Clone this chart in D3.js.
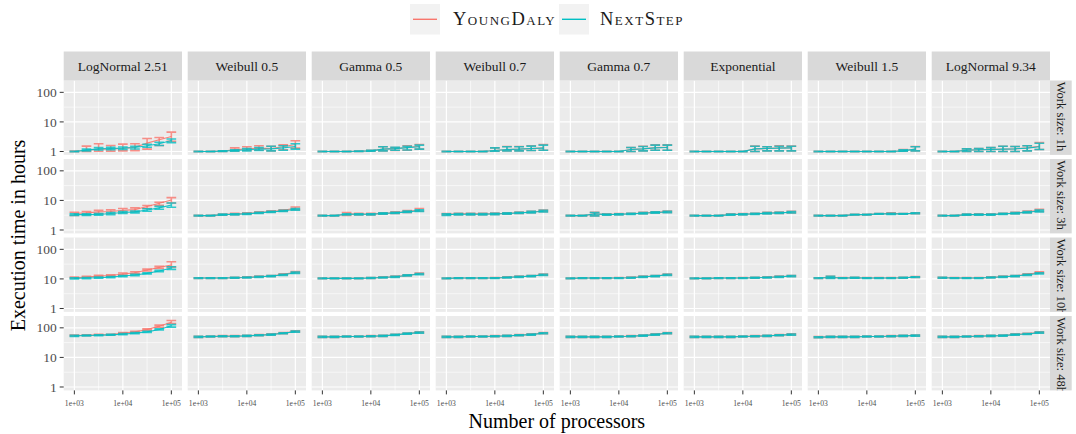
<!DOCTYPE html>
<html>
<head>
<meta charset="utf-8">
<script src="https://cdn.jsdelivr.net/npm/d3@7"></script>
<style>
  body { margin: 0; background: #fff; }
  svg { display: block; }
  text { font-family: "Liberation Serif", "Times New Roman", serif; }
</style>
</head>
<body>
<svg id="chart" width="1076" height="434"></svg>
<script>
// ---- Facets, axes and series ----
const distributions = ["LogNormal 2.51", "Weibull 0.5", "Gamma 0.5", "Weibull 0.7",
                       "Gamma 0.7", "Exponential", "Weibull 1.5", "LogNormal 9.34"];
const workSizes = ["1h", "3h", "10h", "48h"];
const workSizeLabels = ["Work size: 1h", "Work size: 3h", "Work size: 10h", "Work size: 48h"];
const processorCounts = [1000, 1778, 3162, 5623, 10000, 17783, 31623, 56234, 100000];
const heuristics = ["YoungDaly", "NextStep"];
const heuristicColors = ["#F8766D", "#00BFC4"];
const xTicks = [1e3, 1e4, 1e5];
const xTickLabels = ["1e+03", "1e+04", "1e+05"];
const xMinorTicks = [3162.28, 31622.8];
const yTicks = [1, 10, 100];
const yTickLabels = ["1", "10", "100"];
const yMinorTicks = [3.1623, 31.623];

// Execution time in hours: one row per distribution, one column per processor count.
// ---- Work size 1h ----
const nextStep1hMean = [
  [1.00,1.11,1.23,1.26,1.30,1.37,1.56,1.82,2.36],
  [1.00,1.00,1.03,1.08,1.14,1.20,1.23,1.33,1.48],
  [1.00,1.00,1.00,1.02,1.05,1.20,1.25,1.35,1.44],
  [1.00,1.00,1.00,1.00,1.08,1.17,1.20,1.26,1.30],
  [1.00,1.00,1.00,1.00,1.00,1.17,1.23,1.33,1.37],
  [1.00,1.00,1.00,1.00,1.00,1.23,1.26,1.30,1.33],
  [1.00,1.00,1.00,1.00,1.00,1.00,1.00,1.05,1.20],
  [1.00,1.00,1.10,1.14,1.17,1.20,1.23,1.30,1.44]];
const nextStep1hLow = [
  [0.99,1.05,1.12,1.14,1.17,1.22,1.40,1.60,2.00],
  [0.99,0.99,1.00,1.03,1.05,1.08,1.05,1.10,1.20],
  [0.99,0.99,0.99,1.00,1.02,1.05,1.10,1.12,1.20],
  [0.99,0.99,0.99,0.99,1.02,1.05,1.05,1.08,1.10],
  [0.99,0.99,0.99,0.99,0.99,1.00,1.05,1.10,1.10],
  [0.99,0.99,0.99,0.99,0.99,1.00,1.05,1.05,1.05],
  [0.99,0.99,0.99,0.99,0.99,0.99,0.99,1.02,1.05],
  [0.99,0.99,1.00,1.00,1.00,1.00,1.00,1.05,1.17]];
const nextStep1hHigh = [
  [1.02,1.20,1.35,1.38,1.42,1.50,1.75,2.05,2.65],
  [1.01,1.01,1.05,1.15,1.25,1.35,1.50,1.56,1.82],
  [1.01,1.01,1.01,1.04,1.10,1.45,1.40,1.50,1.64],
  [1.01,1.01,1.01,1.01,1.33,1.44,1.44,1.52,1.64],
  [1.01,1.01,1.01,1.01,1.01,1.37,1.48,1.64,1.64],
  [1.01,1.01,1.01,1.01,1.01,1.50,1.44,1.50,1.50],
  [1.01,1.01,1.01,1.01,1.01,1.01,1.01,1.15,1.44],
  [1.01,1.01,1.23,1.26,1.35,1.50,1.48,1.56,1.90]];
const youngDaly1hMean = [
  [1.00,1.10,1.20,1.22,1.27,1.40,1.92,2.49,3.20],
  [1.00,1.00,1.03,1.14,1.23,1.30,1.27,1.44,1.73],
  [1.00,1.00,1.00,1.02,1.05,1.20,1.25,1.37,1.50],
  [1.00,1.00,1.00,1.00,1.08,1.17,1.20,1.26,1.33],
  [1.00,1.00,1.00,1.00,1.00,1.17,1.23,1.35,1.40],
  [1.00,1.00,1.00,1.00,1.00,1.23,1.26,1.33,1.33],
  [1.00,1.00,1.00,1.00,1.00,1.00,1.00,1.06,1.21],
  [1.00,1.00,1.10,1.14,1.17,1.20,1.23,1.33,1.50]];
const youngDaly1hLow = [
  [0.98,1.00,1.02,1.03,1.05,1.07,1.20,1.60,2.20],
  [0.99,0.99,1.00,1.05,1.08,1.10,1.05,1.15,1.30],
  [0.99,0.99,0.99,1.00,1.02,1.05,1.08,1.10,1.20],
  [0.99,0.99,0.99,0.99,1.02,1.05,1.05,1.08,1.10],
  [0.99,0.99,0.99,0.99,0.99,1.00,1.05,1.10,1.10],
  [0.99,0.99,0.99,0.99,0.99,1.00,1.05,1.05,1.05],
  [0.99,0.99,0.99,0.99,0.99,0.99,0.99,1.02,1.05],
  [0.99,0.99,1.00,1.00,1.00,1.00,1.00,1.05,1.17]];
const youngDaly1hHigh = [
  [1.03,1.52,1.82,1.60,1.77,1.82,2.76,2.98,4.50],
  [1.01,1.01,1.06,1.33,1.44,1.56,1.50,1.68,2.30],
  [1.01,1.01,1.01,1.04,1.10,1.45,1.35,1.56,1.73],
  [1.01,1.01,1.01,1.01,1.33,1.48,1.48,1.56,1.73],
  [1.01,1.01,1.01,1.01,1.01,1.37,1.50,1.68,1.68],
  [1.01,1.01,1.01,1.01,1.01,1.52,1.44,1.56,1.52],
  [1.01,1.01,1.01,1.01,1.01,1.01,1.01,1.17,1.48],
  [1.01,1.01,1.23,1.26,1.35,1.50,1.48,1.56,2.00]];

// ---- Work size 3h ----
const nextStep3hMean = [
  [3.30,3.30,3.35,3.60,3.90,4.10,4.76,5.60,7.00],
  [3.05,3.05,3.30,3.40,3.50,3.80,4.10,4.40,5.00],
  [3.05,3.05,3.40,3.40,3.40,3.60,3.80,4.10,4.50],
  [3.30,3.40,3.40,3.40,3.50,3.60,3.80,4.00,4.30],
  [3.05,3.05,3.50,3.30,3.40,3.50,3.70,3.90,4.07],
  [3.05,3.05,3.05,3.30,3.40,3.50,3.70,3.80,3.97],
  [3.05,3.05,3.05,3.30,3.30,3.50,3.50,3.50,3.67],
  [3.05,3.05,3.30,3.30,3.30,3.50,3.70,4.00,4.40]];
const nextStep3hLow = [
  [3.10,3.10,3.15,3.30,3.60,3.80,4.30,5.00,5.90],
  [2.98,2.98,3.15,3.25,3.35,3.60,3.90,4.20,4.70],
  [2.98,2.98,3.20,3.25,3.25,3.40,3.60,3.90,4.20],
  [3.10,3.20,3.20,3.20,3.30,3.40,3.60,3.80,4.10],
  [2.98,2.98,3.00,3.15,3.25,3.35,3.50,3.70,3.85],
  [2.98,2.98,2.98,3.15,3.25,3.35,3.50,3.60,3.75],
  [2.98,2.98,2.98,3.20,3.20,3.40,3.35,3.40,3.55],
  [2.98,2.98,3.15,3.15,3.15,3.35,3.50,3.80,4.10]];
const nextStep3hHigh = [
  [3.50,3.50,3.60,3.90,4.20,4.40,5.20,6.30,8.20],
  [3.12,3.12,3.45,3.55,3.70,4.00,4.30,4.65,5.30],
  [3.12,3.12,3.55,3.55,3.55,3.80,4.00,4.35,4.80],
  [3.50,3.60,3.60,3.60,3.70,3.80,4.00,4.25,4.60],
  [3.12,3.12,3.90,3.45,3.55,3.65,3.90,4.10,4.30],
  [3.12,3.12,3.12,3.45,3.55,3.65,3.90,4.00,4.20],
  [3.12,3.12,3.12,3.40,3.40,3.60,3.65,3.60,3.80],
  [3.12,3.12,3.45,3.45,3.45,3.65,3.90,4.20,4.70]];
const youngDaly3hMean = [
  [3.60,3.80,4.10,4.20,4.60,4.90,6.20,8.00,10.40],
  [3.05,3.05,3.30,3.50,3.60,3.90,4.20,4.60,5.40],
  [3.05,3.05,3.50,3.45,3.45,3.65,3.85,4.20,4.70],
  [3.40,3.50,3.50,3.50,3.55,3.65,3.85,4.05,4.40],
  [3.05,3.05,3.50,3.35,3.45,3.55,3.75,3.95,4.10],
  [3.05,3.05,3.05,3.35,3.45,3.55,3.75,3.85,4.00],
  [3.05,3.05,3.05,3.30,3.30,3.50,3.60,3.50,3.70],
  [3.05,3.05,3.30,3.35,3.35,3.55,3.75,4.10,4.60]];
const youngDaly3hLow = [
  [3.10,3.30,3.50,3.60,3.90,4.20,5.30,6.80,8.20],
  [2.98,2.98,3.15,3.30,3.40,3.70,4.00,4.35,4.90],
  [2.98,2.98,3.10,3.25,3.25,3.45,3.65,3.95,4.30],
  [3.20,3.30,3.30,3.30,3.35,3.45,3.65,3.85,4.15],
  [2.98,2.98,3.00,3.20,3.30,3.40,3.55,3.75,3.90],
  [2.98,2.98,2.98,3.20,3.30,3.40,3.55,3.65,3.80],
  [2.98,2.98,2.98,3.20,3.20,3.40,3.40,3.40,3.55],
  [2.98,2.98,3.15,3.20,3.20,3.40,3.55,3.85,4.20]];
const youngDaly3hHigh = [
  [4.00,4.20,4.60,4.80,5.30,5.60,6.70,8.70,12.40],
  [3.12,3.12,3.45,3.70,3.85,4.10,4.45,4.85,6.00],
  [3.12,3.12,3.90,3.65,3.65,3.85,4.10,4.50,5.30],
  [3.60,3.70,3.70,3.70,3.75,3.85,4.05,4.30,4.70],
  [3.12,3.12,3.95,3.50,3.60,3.70,3.95,4.15,4.35],
  [3.12,3.12,3.12,3.50,3.60,3.70,3.95,4.05,4.25],
  [3.12,3.12,3.12,3.40,3.40,3.60,3.80,3.60,3.85],
  [3.12,3.12,3.45,3.50,3.50,3.70,3.95,4.40,5.00]];

// ---- Work size 10h ----
const nextStep10hMean = [
  [10.4,10.7,11.0,11.5,12.5,13.5,15.4,18.5,23.3],
  [10.7,10.7,10.7,10.96,11.2,11.8,12.4,13.8,16.2],
  [10.4,10.4,10.4,10.4,10.7,11.2,11.8,13.1,14.6],
  [10.4,10.7,10.7,10.7,10.7,11.2,11.8,12.4,13.8],
  [10.4,10.7,10.7,10.7,10.7,11.0,11.8,12.4,13.8],
  [10.4,10.4,10.7,10.7,10.7,10.96,11.2,11.8,12.4],
  [10.7,11.2,10.7,10.96,10.7,10.7,10.7,10.96,11.5],
  [10.96,10.7,10.7,10.7,11.2,11.8,12.4,13.8,15.3]];
const nextStep10hLow = [
  [9.9,10.2,10.5,10.9,11.9,12.8,14.6,17.4,21.0],
  [10.4,10.4,10.4,10.6,10.8,11.3,11.9,13.2,15.4],
  [10.1,10.1,10.1,10.1,10.3,10.8,11.3,12.5,13.9],
  [10.1,10.4,10.4,10.4,10.4,10.8,11.3,11.9,13.2],
  [10.1,10.4,10.4,10.4,10.4,10.6,11.3,11.9,13.2],
  [10.1,10.1,10.4,10.4,10.4,10.6,10.8,11.3,11.9],
  [10.4,10.4,10.4,10.6,10.4,10.4,10.4,10.6,11.1],
  [10.5,10.4,10.4,10.4,10.8,11.3,11.9,13.2,14.6]];
const nextStep10hHigh = [
  [10.9,11.2,11.5,12.1,13.1,14.2,16.2,19.6,25.8],
  [11.0,11.0,11.0,11.3,11.6,12.3,12.9,14.4,17.0],
  [10.7,10.7,10.7,10.7,11.1,11.6,12.3,13.7,15.3],
  [10.7,11.0,11.0,11.0,11.0,11.6,12.3,12.9,14.4],
  [10.7,11.0,11.0,11.0,11.0,11.4,12.3,12.9,14.4],
  [10.7,10.7,11.0,11.0,11.0,11.3,11.6,12.3,12.9],
  [11.0,12.2,11.0,11.3,11.0,11.0,11.0,11.3,11.9],
  [11.4,11.0,11.0,11.0,11.6,12.3,12.9,14.4,16.0]];
const youngDaly10hMean = [
  [11.0,11.5,12.5,13.1,14.6,16.2,19.9,24.5,29.4],
  [10.7,10.7,10.7,11.0,11.3,11.9,12.5,14.2,16.8],
  [10.4,10.4,10.4,10.5,10.8,11.3,11.9,13.2,15.0],
  [10.4,10.7,10.7,10.7,10.8,11.3,11.9,12.5,14.0],
  [10.4,10.7,10.7,10.7,10.8,11.1,11.9,12.5,14.0],
  [10.4,10.4,10.7,10.7,10.8,11.0,11.3,11.9,12.5],
  [10.7,11.3,10.8,11.0,10.8,10.8,10.8,11.0,11.6],
  [11.0,10.8,10.8,10.8,11.3,11.9,12.5,14.2,16.5]];
const youngDaly10hLow = [
  [10.5,10.9,11.8,12.4,13.6,15.0,18.5,22.5,25.0],
  [10.4,10.4,10.4,10.6,10.9,11.4,12.0,13.6,16.0],
  [10.1,10.1,10.1,10.2,10.4,10.9,11.4,12.6,14.3],
  [10.1,10.4,10.4,10.4,10.5,10.9,11.4,12.0,13.4],
  [10.1,10.4,10.4,10.4,10.5,10.7,11.4,12.0,13.4],
  [10.1,10.1,10.4,10.4,10.5,10.6,10.9,11.4,12.0],
  [10.4,10.5,10.5,10.6,10.5,10.5,10.5,10.6,11.2],
  [10.6,10.5,10.5,10.5,10.9,11.4,12.0,13.6,15.6]];
const youngDaly10hHigh = [
  [11.6,12.2,13.3,13.9,15.8,17.5,21.5,26.5,38.0],
  [11.0,11.0,11.0,11.4,11.7,12.4,13.0,14.8,17.6],
  [10.7,10.7,10.7,10.8,11.2,11.7,12.4,13.8,15.7],
  [10.7,11.0,11.0,11.0,11.1,11.7,12.4,13.0,14.6],
  [10.7,11.0,11.0,11.0,11.1,11.5,12.4,13.0,14.6],
  [10.7,10.7,11.0,11.0,11.1,11.4,11.7,12.4,13.0],
  [11.0,12.2,11.1,11.4,11.1,11.1,11.1,11.4,12.0],
  [11.4,11.1,11.1,11.1,11.7,12.4,13.0,14.8,17.4]];

// ---- Work size 48h ----
const nextStep48hMean = [
  [53.5,55,56,58,61,66,73,88,117],
  [49.4,50.7,52,52,53.3,56.1,59.1,65.5,74.5],
  [49.4,49.4,50.7,50.7,52,53.3,57.6,63.8,69],
  [49.4,49.4,50.7,50.7,52,53.3,56.1,59.1,65.5],
  [49.4,49.4,49.4,49.4,50.7,52,54.7,59.1,65.5],
  [49.4,49.4,49.4,49.4,50.7,52,53.3,56.1,59.1],
  [48.2,49.4,49.4,49.4,50.7,50.7,52,53.3,54.7],
  [49.4,49.4,50.7,52,53.3,54.7,59.1,62.2,69]];
const nextStep48hLow = [
  [51.5,53,54,56,58.5,63,70,84,106],
  [47.6,48.8,50,50,51.3,54,56.9,63,71.5],
  [47.6,47.6,48.8,48.8,50,51.3,55.4,61.4,66.4],
  [47.6,47.6,48.8,48.8,50,51.3,54,56.9,63],
  [47.6,47.6,47.6,47.6,48.8,50,52.6,56.9,63],
  [47.6,47.6,47.6,47.6,48.8,50,51.3,54,56.9],
  [46.4,47.6,47.6,47.6,48.8,48.8,50,51.3,52.6],
  [47.6,47.6,48.8,50,51.3,52.6,56.9,59.8,66.4]];
const nextStep48hHigh = [
  [55.5,57,58,60,63.5,69,76,92,128],
  [51.3,52.7,54,54,55.4,58.3,61.5,68.1,77.5],
  [51.3,51.3,52.7,52.7,54,55.4,59.9,66.4,71.8],
  [51.3,51.3,52.7,52.7,54,55.4,58.3,61.5,68.1],
  [51.3,51.3,51.3,51.3,52.7,54,56.9,61.5,68.1],
  [51.3,51.3,51.3,51.3,52.7,54,55.4,58.3,61.5],
  [50.1,51.3,51.3,51.3,52.7,52.7,54,55.4,56.9],
  [51.3,51.3,52.7,54,55.4,56.9,61.5,64.7,71.8]];
const youngDaly48hMean = [
  [55,56,58,59,66,73,88,114,155],
  [49.6,50.9,52.3,52.4,53.8,56.7,59.9,66.6,76],
  [49.6,49.6,50.9,51,52.3,53.8,58.2,64.6,70.2],
  [49.6,49.6,50.9,51,52.3,53.8,56.7,59.9,66.6],
  [49.6,49.6,49.6,49.7,51,52.3,55.2,59.9,66.6],
  [49.6,49.6,49.6,49.7,51,52.3,53.8,56.7,59.9],
  [48.4,49.6,49.6,49.7,51,51,52.3,53.8,55.2],
  [49.6,49.6,50.9,52.3,53.8,55.2,59.9,63,70.2]];
const youngDaly48hLow = [
  [53,54,56,57,63,69,83,105,140],
  [47.6,48.9,50.2,50.3,51.6,54.4,57.5,63.9,73],
  [47.6,47.6,48.9,49,50.2,51.6,55.9,62,67.4],
  [47.6,47.6,48.9,49,50.2,51.6,54.4,57.5,63.9],
  [47.6,47.6,47.6,47.7,49,50.2,53,57.5,63.9],
  [47.6,47.6,47.6,47.7,49,50.2,51.6,54.4,57.5],
  [46.5,47.6,47.6,47.7,49,49,50.2,51.6,53],
  [47.6,47.6,48.9,50.2,51.6,53,57.5,60.5,67.4]];
const youngDaly48hHigh = [
  [57,58,60,61,69,77,93,123,176],
  [51.6,52.9,54.4,54.5,56,59,62.3,69.3,79],
  [51.6,51.6,52.9,53,54.4,56,60.5,67.2,73],
  [51.6,51.6,52.9,53,54.4,56,59,62.3,69.3],
  [51.6,51.6,51.6,51.7,53,54.4,57.4,62.3,69.3],
  [51.6,51.6,51.6,51.7,53,54.4,56,59,62.3],
  [50.3,51.6,51.6,51.7,53,53,54.4,56,57.4],
  [51.6,51.6,52.9,54.4,56,57.4,62.3,65.5,73]];

// Per-heuristic lookup, rows ordered like workSizes
const seriesTables = [
  { mean: [youngDaly1hMean, youngDaly3hMean, youngDaly10hMean, youngDaly48hMean],
    low:  [youngDaly1hLow,  youngDaly3hLow,  youngDaly10hLow,  youngDaly48hLow],
    high: [youngDaly1hHigh, youngDaly3hHigh, youngDaly10hHigh, youngDaly48hHigh] },
  { mean: [nextStep1hMean, nextStep3hMean, nextStep10hMean, nextStep48hMean],
    low:  [nextStep1hLow,  nextStep3hLow,  nextStep10hLow,  nextStep48hLow],
    high: [nextStep1hHigh, nextStep3hHigh, nextStep10hHigh, nextStep48hHigh] }
];

// ---- Layout ----
const panelLeft0 = 63.7, panelStepX = 124, panelW = 118.3;
const panelTop0 = 80.5, panelStepY = 78.5, panelH = 74.4;
const stripTop = 51.5, stripH = 29;
const rightStripW = 21.7;
const errorBarHalfWidth = 0.1;   // in log10 units of the processor axis

const x = d3.scaleLog().domain([Math.pow(10, 2.78), Math.pow(10, 5.22)]).range([0, panelW]);
const y = d3.scaleLog().domain([Math.pow(10, -0.115), Math.pow(10, 2.4)]).range([panelH, 0]);

const svg = d3.select("#chart");
const defs = svg.append("defs");

// ---- Panels ----
workSizes.forEach((ws, r) => {
  distributions.forEach((dist, c) => {
    const px = panelLeft0 + c * panelStepX;
    const py = panelTop0 + r * panelStepY;
    const g = svg.append("g").attr("transform", `translate(${px},${py})`);

    const clipId = `clip-${r}-${c}`;
    defs.append("clipPath").attr("id", clipId)
      .append("rect").attr("width", panelW).attr("height", panelH);

    g.append("rect").attr("width", panelW).attr("height", panelH).attr("fill", "#EBEBEB");

    // minor grid
    g.selectAll(".ymin").data(yMinorTicks).join("line")
      .attr("x1", 0).attr("x2", panelW)
      .attr("y1", d => y(d)).attr("y2", d => y(d))
      .attr("stroke", "#fff").attr("stroke-width", 0.6);
    g.selectAll(".xmin").data(xMinorTicks).join("line")
      .attr("y1", 0).attr("y2", panelH)
      .attr("x1", d => x(d)).attr("x2", d => x(d))
      .attr("stroke", "#fff").attr("stroke-width", 0.6);
    // major grid
    g.selectAll(".ymaj").data(yTicks).join("line")
      .attr("x1", 0).attr("x2", panelW)
      .attr("y1", d => y(d)).attr("y2", d => y(d))
      .attr("stroke", "#fff").attr("stroke-width", 1.2);
    g.selectAll(".xmaj").data(xTicks).join("line")
      .attr("y1", 0).attr("y2", panelH)
      .attr("x1", d => x(d)).attr("x2", d => x(d))
      .attr("stroke", "#fff").attr("stroke-width", 1.2);

    const plot = g.append("g").attr("clip-path", `url(#${clipId})`);

    heuristics.forEach((h, k) => {
      const t = seriesTables[k];
      const mean = t.mean[r][c], low = t.low[r][c], high = t.high[r][c];
      const pts = processorCounts.map((p, i) => ({ p, m: mean[i], lo: low[i], hi: high[i] }));
      const col = heuristicColors[k];

      plot.append("path")
        .datum(pts)
        .attr("fill", "none")
        .attr("stroke", col)
        .attr("stroke-width", 1.1)
        .attr("stroke-opacity", 0.9)
        .attr("d", d3.line().x(d => x(d.p)).y(d => y(d.m)));

      const bars = plot.append("g")
        .attr("stroke", col).attr("stroke-width", 1.6).attr("stroke-opacity", 0.8).attr("fill", "none");
      bars.selectAll("path").data(pts).join("path")
        .attr("d", d => {
          const xl = x(d.p / Math.pow(10, errorBarHalfWidth));
          const xr = x(d.p * Math.pow(10, errorBarHalfWidth));
          const xc = x(d.p), yl = y(d.lo), yh = y(d.hi);
          return `M${xl},${yh}H${xr}M${xc},${yh}V${yl}M${xl},${yl}H${xr}`;
        });
    });

    // y axis on the first column
    if (c === 0) {
      yTicks.forEach((v, i) => {
        svg.append("line")
          .attr("x1", px - 4).attr("x2", px).attr("y1", py + y(v)).attr("y2", py + y(v))
          .attr("stroke", "#333").attr("stroke-width", 1);
        svg.append("text")
          .attr("x", px - 7).attr("y", py + y(v) + 4.6)
          .attr("text-anchor", "end").attr("font-size", 13.5).attr("fill", "#4D4D4D")
          .text(yTickLabels[i]);
      });
    }
    // x axis on the bottom row
    if (r === workSizes.length - 1) {
      xTicks.forEach((v, i) => {
        svg.append("line")
          .attr("x1", px + x(v)).attr("x2", px + x(v))
          .attr("y1", py + panelH).attr("y2", py + panelH + 4)
          .attr("stroke", "#333").attr("stroke-width", 1);
        svg.append("text")
          .attr("x", px + x(v)).attr("y", py + panelH + 15.5)
          .attr("text-anchor", "middle").attr("font-size", 7.6).attr("fill", "#4D4D4D")
          .text(xTickLabels[i]);
      });
    }
  });
});

// ---- Column strips ----
distributions.forEach((dist, c) => {
  const px = panelLeft0 + c * panelStepX;
  svg.append("rect").attr("x", px).attr("y", stripTop).attr("width", panelW).attr("height", stripH)
    .attr("fill", "#D9D9D9");
  svg.append("text").attr("x", px + panelW / 2).attr("y", stripTop + 19.5)
    .attr("text-anchor", "middle").attr("font-size", 13.5).attr("fill", "#1A1A1A")
    .text(dist);
});

// ---- Row strips ----
const rightStripX = panelLeft0 + (distributions.length - 1) * panelStepX + panelW;
workSizeLabels.forEach((lab, r) => {
  const py = panelTop0 + r * panelStepY;
  const clipId = `strip-clip-${r}`;
  defs.append("clipPath").attr("id", clipId)
    .append("rect").attr("x", rightStripX).attr("y", py).attr("width", rightStripW).attr("height", panelH);
  svg.append("rect").attr("x", rightStripX).attr("y", py).attr("width", rightStripW).attr("height", panelH)
    .attr("fill", "#D9D9D9");
  svg.append("g").attr("clip-path", `url(#${clipId})`)
    .append("text")
    .attr("transform", `translate(${rightStripX + 6.5},${py + 1.2}) rotate(90)`)
    .attr("text-anchor", "start").attr("font-size", 12.6).attr("fill", "#1A1A1A")
    .text(lab);
});

// ---- Axis titles ----
const panelsMidX = panelLeft0 + ((distributions.length - 1) * panelStepX + panelW) / 2;
const panelsMidY = panelTop0 + ((workSizes.length - 1) * panelStepY + panelH) / 2;
svg.append("text").attr("x", panelsMidX).attr("y", 427.5)
  .attr("text-anchor", "middle").attr("font-size", 20).attr("fill", "#000")
  .text("Number of processors");
svg.append("text")
  .attr("transform", `translate(25,${panelsMidY}) rotate(-90)`)
  .attr("text-anchor", "middle").attr("font-size", 20).attr("fill", "#000")
  .text("Execution time in hours");

// ---- Legend ----
const legendKeys = [410, 559];
const legendTextX = [453, 600];
heuristics.forEach((h, k) => {
  const kx = legendKeys[k];
  svg.append("rect").attr("x", kx).attr("y", 4).attr("width", 30).attr("height", 30.5)
    .attr("fill", "#F2F2F2");
  svg.append("line").attr("x1", kx + 3).attr("x2", kx + 27).attr("y1", 19.3).attr("y2", 19.3)
    .attr("stroke", heuristicColors[k]).attr("stroke-width", 1.4);
  svg.append("text").attr("x", legendTextX[k]).attr("y", 25.3)
    .attr("font-size", 18.5).attr("font-variant", "small-caps").attr("letter-spacing", 1.5)
    .attr("fill", "#1A1A1A")
    .text(h);
});
</script>
</body>
</html>
